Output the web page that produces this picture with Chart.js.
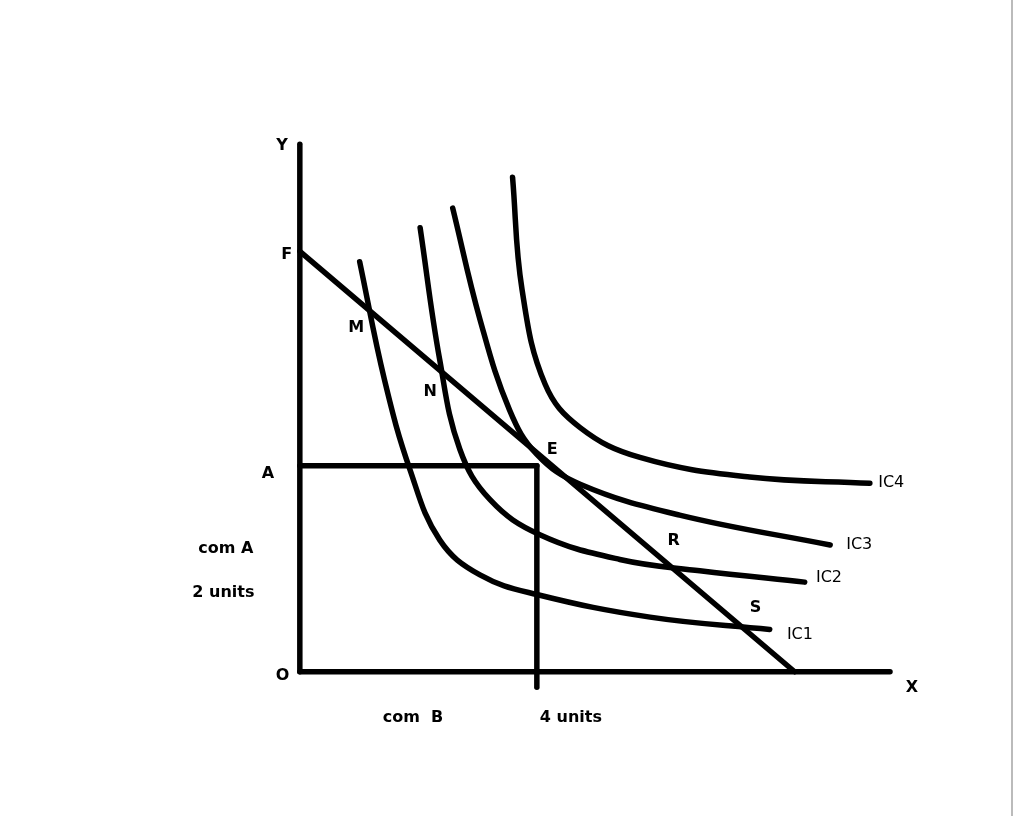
<!DOCTYPE html>
<html>
<head>
<meta charset="utf-8">
<script src="https://cdn.jsdelivr.net/npm/chart.js@4.4.0/dist/chart.umd.min.js"></script>
<style>
  html, body { margin: 0; padding: 0; background: #fff; }
  #wrap { width: 1018px; height: 816px; position: relative; }
  #edge { position: absolute; right: 5px; top: 0; width: 2px; height: 816px; background: #bbb; }
</style>
</head>
<body>
<div id="wrap"><canvas id="c" width="1018" height="816"></canvas><div id="edge"></div></div>
<script>
// indifference curves (x = com B, y = com A)
const ic1 = [[1.01,3.98],[1.43,2.83],[1.86,1.96],[2.36,1.28],[3.04,0.94],[4.0,0.75],[5.91,0.53],[7.93,0.41]];
const ic2 = [[2.03,4.31],[2.36,3.03],[2.70,2.16],[3.21,1.67],[4.05,1.33],[5.40,1.09],[6.75,0.98],[8.52,0.87]];
const ic3 = [[2.58,4.50],[3.04,3.42],[3.54,2.54],[4.0,2.11],[4.73,1.82],[6.41,1.52],[8.95,1.23]];
const ic4 = [[3.59,4.80],[3.75,3.71],[4.14,2.79],[4.73,2.37],[5.74,2.08],[7.59,1.89],[9.62,1.83]];
const budget = [[0,4.08],[8.35,0]];
const yAxis = [[0,0],[0,5.12]];
const xAxis = [[0,0],[9.96,0]];
const hLine = [[0,2],[4,2]];
const vLine = [[4,-0.15],[4,2]];
// text labels [text, x, y, align]
const labels = [
  ['Y', -0.3, 5.1, 'center'], ['F', -0.22, 4.05, 'center'], ['M', 0.95, 3.34, 'center'],
  ['N', 2.2, 2.72, 'center'], ['E', 4.26, 2.15, 'center'], ['R', 6.31, 1.27, 'center'],
  ['S', 7.69, 0.62, 'center'], ['A', -0.54, 1.92, 'center'], ['O', -0.29, -0.04, 'center'],
  ['X', 10.33, -0.16, 'center'], ['IC4', 9.76, 1.83, 'left'], ['IC3', 9.22, 1.23, 'left'],
  ['IC2', 8.71, 0.91, 'left'], ['IC1', 8.22, 0.36, 'left'],
  ['com A', -1.25, 1.19, 'center'], ['2 units', -1.29, 0.77, 'center'],
  ['com  B', 1.40, -0.45, 'left'], ['4 units', 4.05, -0.45, 'left']
];

const toPts = arr => arr.map(p => ({ x: p[0], y: p[1] }));
const line = (arr, t) => ({
  data: toPts(arr), showLine: true, borderColor: '#000', borderWidth: 5.5,
  pointRadius: 0, tension: t || 0, borderCapStyle: 'round', fill: false
});

const textPlugin = {
  id: 'texts',
  afterDatasetsDraw(chart) {
    const c = chart.ctx, xs = chart.scales.x, ys = chart.scales.y;
    c.save();
    c.fillStyle = '#000';
    c.font = 'bold 16px "DejaVu Sans", sans-serif';
    c.textBaseline = 'middle';
    labels.forEach(l => {
      c.textAlign = l[3];
      c.font = l[0].startsWith('IC') ? '16px "DejaVu Sans", sans-serif' : 'bold 16px "DejaVu Sans", sans-serif';
      c.fillText(l[0], xs.getPixelForValue(l[1]), ys.getPixelForValue(l[2]));
    });
    c.restore();
  }
};

new Chart(document.getElementById('c'), {
  type: 'scatter',
  data: {
    datasets: [
      line(yAxis), line(xAxis), line(hLine), line(vLine), line(budget),
      line(ic1, 0.4), line(ic2, 0.4), line(ic3, 0.4), line(ic4, 0.4)
    ]
  },
  options: {
    responsive: false,
    animation: false,
    layout: { padding: 0 },
    plugins: { legend: { display: false }, tooltip: { enabled: false } },
    scales: {
      x: { type: 'linear', min: -5.06, max: 12.12, display: false },
      y: { type: 'linear', min: -1.40, max: 6.52, display: false }
    }
  },
  plugins: [textPlugin]
});
</script>
</body>
</html>
